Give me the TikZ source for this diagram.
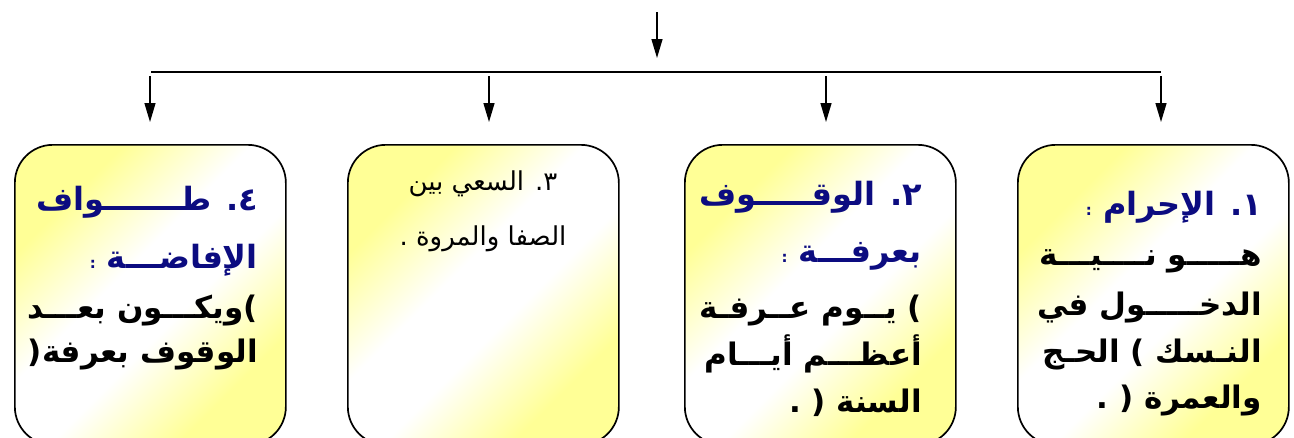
\documentclass[tikz,border=0pt]{standalone}
\usepackage{fontspec}
\usetikzlibrary{arrows.meta}
\TeXXeTstate=1
\newfontfamily\arabicfont[Script=Arabic]{DejaVu Sans}
\definecolor{byel}{RGB}{255,255,150}
\definecolor{tblue}{RGB}{12,12,128}
\pgfdeclarehorizontalshading{boxshade}{100bp}{color(0bp)=(byel); color(28bp)=(byel); color(44bp)=(white); color(56bp)=(white); color(72bp)=(byel); color(100bp)=(byel)}
\tikzset{
  stepbox/.style={draw=black, line width=1.7pt, rounded corners=38pt, minimum width=271pt, minimum height=300pt, anchor=north west, inner sep=0pt, shading=boxshade, shading angle=-45},
  arr/.style={-{Triangle[length=19pt,width=11pt]}, line width=1.4pt},
  btxt/.style={anchor=base east, inner sep=0pt, text=black, font=\arabicfont\bfseries\fontsize{31}{34}\selectfont},
  ttl/.style={btxt, text=tblue, font=\arabicfont\bfseries\fontsize{32}{34}\selectfont},
  mtxt/.style={anchor=base, inner sep=0pt, text=black, font=\arabicfont\fontsize{26}{28}\selectfont}
}
\newcommand{\smcolon}{{\fontsize{15}{15}\selectfont :}}
\begin{document}
\begin{tikzpicture}[x=1pt,y=-1pt]
\useasboundingbox (0,0) rectangle (1294,437);
% boxes
\node[stepbox] (box1) at (1017,144) {};
\node[stepbox] (box2) at (684,144) {};
\node[stepbox] (box3) at (347,144) {};
\node[stepbox] (box4) at (14,144) {};
% connectors
\coordinate (top0) at (657,12);
\coordinate (top1) at (657,58);
\coordinate (busL) at (151,72);
\coordinate (busR) at (1161,72);
\draw[arr] (top0) -- (top1);
\draw[line width=2.6pt] (busL) -- (busR);
\coordinate (s1) at (1161,76); \coordinate (e1) at (1161,122);
\coordinate (s2) at (826,76);  \coordinate (e2) at (826,122);
\coordinate (s3) at (489,76);  \coordinate (e3) at (489,122);
\coordinate (s4) at (150,76);  \coordinate (e4) at (150,122);
\draw[arr] (s1) -- (e1);
\draw[arr] (s2) -- (e2);
\draw[arr] (s3) -- (e3);
\draw[arr] (s4) -- (e4);
% box 1
\node[ttl] (b1a) at (1262,215) {\beginR ١. الإحرام \smcolon\endR};
\node[btxt] (b1b) at (1262,265) {\beginR هـــــو نــــيـــة\endR};
\node[btxt] (b1c) at (1262,315) {\beginR الدخـــــول في\endR};
\node[btxt] (b1d) at (1262,362) {\beginR النـسك ) الحـج\endR};
\node[btxt] (b1e) at (1262,408) {\beginR والعمرة ( .\endR};
% box 2
\node[ttl] (b2a) at (922,205) {\beginR ٢. الوقـــــوف\endR};
\node[ttl] (b2b) at (922,262) {\beginR بعرفـــة \smcolon\endR};
\node[btxt] (b2c) at (922,318) {\beginR ) يــوم عــرفـة\endR};
\node[btxt] (b2d) at (922,365) {\beginR أعظـــم أيـــام\endR};
\node[btxt] (b2e) at (922,412) {\beginR السنة ( .\endR};
% box 3
\node[mtxt] (b3a) at (483,190) {\beginR ٣. السعي بين\endR};
\node[mtxt] (b3b) at (483,245) {\beginR الصفا والمروة .\endR};
% box 4
\node[ttl] (b4a) at (258,210) {\beginR ٤. طـــــــواف\endR};
\node[ttl] (b4b) at (258,268) {\beginR الإفاضـــة \smcolon\endR};
\node[btxt] (b4c) at (258,318) {\beginR )ويكـــون بعـــد\endR};
\node[btxt] (b4d) at (258,362) {\beginR الوقوف بعرفة(\endR};
\end{tikzpicture}
\end{document}
